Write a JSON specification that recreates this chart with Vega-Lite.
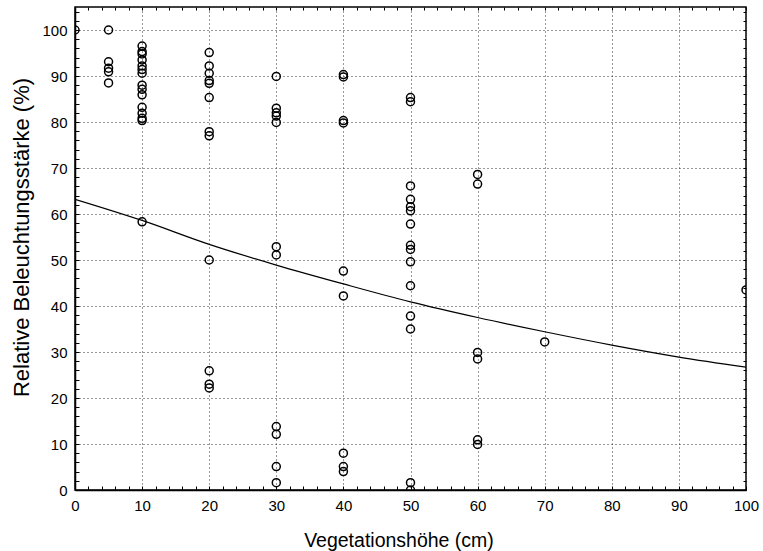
{
  "$schema": "https://vega.github.io/schema/vega-lite/v6.json",
  "width": 671,
  "height": 483,
  "autosize": {"type": "none"},
  "padding": {"left": 75, "top": 7, "right": 17, "bottom": 61},
  "background": "white",
  "config": {
    "font": "Liberation Sans",
    "view": {"stroke": "black", "strokeWidth": 1.5},
    "axis": {
      "labelFont": "Liberation Sans",
      "titleFont": "Liberation Sans",
      "labelFontSize": 15,
      "titleFontSize": 19.5,
      "titleFontWeight": "normal",
      "labelColor": "black",
      "titleColor": "black",
      "domainColor": "black",
      "domainWidth": 1.5,
      "tickColor": "black",
      "tickWidth": 1,
      "gridColor": "#333333",
      "gridDash": [1, 3],
      "gridWidth": 1
    }
  },
  "datasets": {
    "points": [
      {"h": 0, "b": 100},
      {"h": 5, "b": 100}, {"h": 5, "b": 93.1}, {"h": 5, "b": 91.7}, {"h": 5, "b": 90.9}, {"h": 5, "b": 88.5},
      {"h": 10, "b": 96.5}, {"h": 10, "b": 95.3}, {"h": 10, "b": 94.8}, {"h": 10, "b": 93.5}, {"h": 10, "b": 92.2},
      {"h": 10, "b": 91.4}, {"h": 10, "b": 90.6}, {"h": 10, "b": 88.0}, {"h": 10, "b": 87.1}, {"h": 10, "b": 85.9},
      {"h": 10, "b": 83.2}, {"h": 10, "b": 81.9}, {"h": 10, "b": 80.8}, {"h": 10, "b": 80.3}, {"h": 10, "b": 58.3},
      {"h": 20, "b": 95.1}, {"h": 20, "b": 92.2}, {"h": 20, "b": 90.6}, {"h": 20, "b": 89.0}, {"h": 20, "b": 88.4},
      {"h": 20, "b": 85.3}, {"h": 20, "b": 77.9}, {"h": 20, "b": 77.0}, {"h": 20, "b": 50.0}, {"h": 20, "b": 25.9},
      {"h": 20, "b": 23.0}, {"h": 20, "b": 22.2},
      {"h": 30, "b": 89.9}, {"h": 30, "b": 83.0}, {"h": 30, "b": 82.0}, {"h": 30, "b": 81.3}, {"h": 30, "b": 79.9},
      {"h": 30, "b": 52.9}, {"h": 30, "b": 51.1}, {"h": 30, "b": 13.8}, {"h": 30, "b": 12.1}, {"h": 30, "b": 5.1},
      {"h": 30, "b": 1.6},
      {"h": 40, "b": 90.3}, {"h": 40, "b": 89.8}, {"h": 40, "b": 80.3}, {"h": 40, "b": 79.8}, {"h": 40, "b": 47.6},
      {"h": 40, "b": 42.2}, {"h": 40, "b": 8.0}, {"h": 40, "b": 5.1}, {"h": 40, "b": 4.0},
      {"h": 50, "b": 85.3}, {"h": 50, "b": 84.4}, {"h": 50, "b": 66.1}, {"h": 50, "b": 63.2}, {"h": 50, "b": 61.6},
      {"h": 50, "b": 60.7}, {"h": 50, "b": 57.8}, {"h": 50, "b": 53.2}, {"h": 50, "b": 52.3}, {"h": 50, "b": 49.6},
      {"h": 50, "b": 44.4}, {"h": 50, "b": 37.8}, {"h": 50, "b": 35.0}, {"h": 50, "b": 1.6}, {"h": 50, "b": 0},
      {"h": 60, "b": 68.6}, {"h": 60, "b": 66.5}, {"h": 60, "b": 29.9}, {"h": 60, "b": 28.5}, {"h": 60, "b": 10.9},
      {"h": 60, "b": 9.9},
      {"h": 70, "b": 32.2},
      {"h": 100, "b": 43.5}
    ],
    "curve": [
      {"h": 0, "b": 63.2}, {"h": 10, "b": 58.6}, {"h": 20, "b": 53.4}, {"h": 30, "b": 48.9},
      {"h": 40, "b": 44.8}, {"h": 50, "b": 40.9}, {"h": 60, "b": 37.5}, {"h": 70, "b": 34.4},
      {"h": 80, "b": 31.5}, {"h": 90, "b": 28.9}, {"h": 100, "b": 26.7}
    ]
  },
  "layer": [
    {
      "data": {"name": "points"},
      "mark": {"type": "point", "shape": "circle", "filled": false, "color": "black", "size": 64, "strokeWidth": 1.5, "opacity": 1, "clip": true},
      "encoding": {
        "x": {
          "field": "h", "type": "quantitative",
          "scale": {"domain": [0, 100], "nice": false, "zero": false},
          "axis": {
            "orient": "bottom",
            "title": "Vegetationshöhe (cm)",
            "values": [0,2,4,6,8,10,12,14,16,18,20,22,24,26,28,30,32,34,36,38,40,42,44,46,48,50,52,54,56,58,60,62,64,66,68,70,72,74,76,78,80,82,84,86,88,90,92,94,96,98,100],
            "labelExpr": "datum.value % 10 == 0 ? datum.label : ''",
            "gridOpacity": {"condition": {"test": "datum.value % 10 != 0 || datum.value == 0 || datum.value == 100", "value": 0}, "value": 1},
            "tickSize": -4,
            "labelPadding": 12,
            "titleX": 323.5,
            "titleY": 56,
            "titleAlign": "center",
            "titleBaseline": "alphabetic",
            "labelFlush": false
          }
        },
        "y": {
          "field": "b", "type": "quantitative",
          "scale": {"domain": [0, 105], "nice": false, "zero": false},
          "axis": {
            "orient": "left",
            "title": "Relative Beleuchtungsstärke (%)",
            "titleFontSize": 22,
            "values": [0,2,4,6,8,10,12,14,16,18,20,22,24,26,28,30,32,34,36,38,40,42,44,46,48,50,52,54,56,58,60,62,64,66,68,70,72,74,76,78,80,82,84,86,88,90,92,94,96,98,100,102,104],
            "labelExpr": "datum.value % 10 == 0 ? datum.label : ''",
            "gridOpacity": {"condition": {"test": "datum.value % 10 != 0 || datum.value == 0", "value": 0}, "value": 1},
            "tickSize": -4,
            "labelPadding": 12,
            "titleAngle": -90,
            "titleX": -47,
            "titleY": 230,
            "titleAlign": "center",
            "titleBaseline": "alphabetic",
            "labelFlush": false
          }
        }
      }
    },
    {
      "data": {"name": "curve"},
      "mark": {"type": "line", "color": "black", "strokeWidth": 1.2, "interpolate": "monotone", "clip": true},
      "encoding": {
        "x": {
          "field": "h", "type": "quantitative",
          "axis": {
            "orient": "top",
            "title": null,
            "labels": false,
            "grid": false,
            "domain": false,
            "tickSize": -3,
            "values": [0,2,4,6,8,10,12,14,16,18,20,22,24,26,28,30,32,34,36,38,40,42,44,46,48,50,52,54,56,58,60,62,64,66,68,70,72,74,76,78,80,82,84,86,88,90,92,94,96,98,100]
          }
        },
        "y": {
          "field": "b", "type": "quantitative",
          "axis": {
            "orient": "right",
            "title": null,
            "labels": false,
            "grid": false,
            "domain": false,
            "tickSize": -3,
            "values": [0,2,4,6,8,10,12,14,16,18,20,22,24,26,28,30,32,34,36,38,40,42,44,46,48,50,52,54,56,58,60,62,64,66,68,70,72,74,76,78,80,82,84,86,88,90,92,94,96,98,100,102,104]
          }
        }
      }
    }
  ]
}
